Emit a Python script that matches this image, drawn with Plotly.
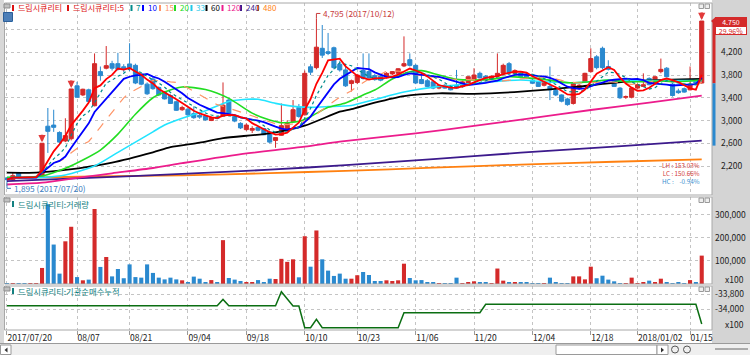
import pandas as pd
import plotly.graph_objects as go

# ------------------------------------------------------------------ data
STOCK = "드림시큐리티"
HOLIDAYS = ["2017-08-15", "2017-10-02", "2017-10-03", "2017-10-04", "2017-10-05",
            "2017-10-06", "2017-10-09", "2017-12-25", "2017-12-29", "2018-01-01"]
dates = [d.strftime("%Y-%m-%d") for d in pd.bdate_range("2017-07-20", "2018-01-17")
         if d.strftime("%Y-%m-%d") not in HOLIDAYS]

opens = [1990, 1960, 2075, 2000, 1995, 2000, 2010, 2900, 2920, 2790,
         2640, 2680, 3610, 3450, 3540, 3260, 3860, 3920, 4000, 4000,
         3945, 3995, 3970, 3820, 3640, 3730, 3580, 3500, 3440, 3330,
         3190, 3200, 3120, 3090, 3080, 3000, 3060, 3080, 3360, 3070,
         2950, 2840, 2830, 2880, 2860, 2800, 2650, 2740, 2830, 2980,
         3230, 3100, 3945, 3930, 4270, 4210, 4280, 3990, 3890, 3650,
         3670, 3880, 3860, 3790, 3780, 3770, 3820, 3830, 3960, 4070,
         3970, 3720, 3700, 3680, 3570, 3620, 3590, 3620, 3600, 3660,
         3720, 3830, 3780, 3730, 3780, 3830, 4000, 3830, 3830, 3800,
         3710, 3680, 3620, 3600, 3530, 3450, 3380, 3300, 3570, 3680,
         3860, 4120, 4270, 3950, 3710, 3570, 3410, 3410, 3570, 3600,
         3740, 3650, 3860, 3920, 3640, 3520, 3560, 3540, 3690, 3660]
highs = [2000, 2080, 2085, 2010, 2005, 2010, 2600, 3220, 3190, 2810,
         3040, 3555, 3680, 3560, 3560, 4180, 3950, 4310, 4050, 4190,
         3990, 4360, 4000, 3840, 3670, 3760, 3600, 3520, 3460, 3350,
         3260, 3220, 3250, 3120, 3100, 3070, 3080, 3670, 3380, 3090,
         2970, 2950, 2900, 2900, 2870, 2810, 2710, 3300, 3000, 3360,
         3290, 3880, 3990, 4795, 4680, 4540, 4300, 4050, 4000, 3720,
         3820, 4180, 4180, 3820, 3800, 3850, 3870, 3920, 4480, 4180,
         3990, 3800, 3730, 3690, 3640, 3640, 3610, 3890, 3700, 3780,
         3920, 3860, 3800, 3790, 4180, 4000, 4030, 3900, 3860, 3820,
         3730, 3700, 3700, 3950, 3550, 3460, 3400, 3680, 3640, 3840,
         4270, 4150, 4300, 4060, 3730, 3590, 3440, 3580, 3650, 3830,
         3760, 3780, 4090, 3940, 3660, 3560, 3580, 3950, 3700, 4750]
lows = [1895, 1950, 1990, 1985, 1985, 1990, 2000, 2430, 2800, 2600,
        2620, 2650, 3400, 3430, 3320, 3250, 3700, 3900, 3880, 3880,
        3850, 3870, 3640, 3620, 3450, 3540, 3430, 3370, 3290, 3170,
        3170, 3080, 3030, 3030, 3000, 2990, 3020, 3070, 3110, 2970,
        2850, 2820, 2780, 2810, 2740, 2600, 2520, 2730, 2800, 2960,
        3050, 3090, 3800, 3900, 4100, 4150, 3900, 3860, 3590, 3510,
        3640, 3720, 3720, 3700, 3690, 3740, 3800, 3820, 3940, 3950,
        3640, 3640, 3590, 3550, 3550, 3560, 3530, 3560, 3580, 3640,
        3700, 3740, 3730, 3720, 3760, 3800, 3820, 3800, 3760, 3730,
        3640, 3590, 3600, 3360, 3430, 3320, 3260, 3280, 3540, 3660,
        3840, 3900, 3900, 3880, 3590, 3380, 3380, 3390, 3560, 3590,
        3620, 3640, 3830, 3760, 3420, 3470, 3490, 3530, 3640, 3650]
closes = [1960, 2030, 2000, 1995, 2000, 2000, 2600, 2810, 2880, 2620,
          2735, 3555, 3410, 3550, 3335, 4000, 3790, 3965, 3920, 3900,
          3900, 3930, 3660, 3640, 3470, 3560, 3450, 3380, 3300, 3180,
          3230, 3100, 3050, 3060, 3010, 3050, 3040, 3270, 3130, 2990,
          2870, 2920, 2860, 2830, 2750, 2620, 2700, 2910, 2950, 3190,
          3070, 3830, 3850, 4290, 4150, 4180, 3930, 3890, 3610, 3700,
          3800, 3740, 3750, 3720, 3710, 3830, 3860, 3910, 4000, 3970,
          3660, 3650, 3600, 3570, 3620, 3570, 3540, 3570, 3680, 3770,
          3800, 3750, 3745, 3780, 3830, 3970, 3840, 3880, 3770, 3745,
          3655, 3600, 3680, 3540, 3450, 3340, 3280, 3650, 3620, 3830,
          4090, 3930, 3930, 3900, 3600, 3400, 3420, 3570, 3630, 3630,
          3630, 3770, 3900, 3770, 3440, 3490, 3500, 3630, 3655, 4750]
# volume, in units of x100 (as on the axis)
volumes = [1500, 4000, 3000, 800, 700, 600, 69500, 346000, 171000, 45000,
           185000, 248000, 30000, 16000, 19000, 325000, 74000, 117000, 33000, 65000,
           25000, 85000, 30000, 27500, 85000, 48000, 27500, 20000, 27500, 20000,
           16000, 8700, 32000, 23000, 5800, 17000, 5800, 190000, 26000, 19000,
           13000, 7200, 7200, 17000, 7200, 23000, 21700, 109000, 96000, 107000,
           29000, 207000, 75000, 232000, 107000, 58000, 35000, 45000, 23000, 23000,
           38000, 52000, 39000, 13000, 13000, 16000, 13000, 16000, 88000, 26000,
           16000, 17000, 7200, 5800, 2900, 2900, 2900, 27500, 4300, 7200,
           11600, 5800, 5800, 2900, 67000, 14500, 7200, 7200, 7200, 7200,
           4300, 2900, 2900, 27500, 5800, 500, 500, 33000, 33000, 20000,
           75000, 25000, 36000, 19000, 11600, 2900, 2900, 27500, 4300, 7200,
           14500, 7200, 23000, 7200, 2900, 7200, 500, 17000, 5800, 123000]
# institutional net buying, cumulative (x100)
inst_cum = [-33952, -33952, -33952, -33952, -33952, -33952, -33952, -33952, -33952, -33952,
            -33952, -33952, -33952, -33952, -33952, -33952, -33952, -33952, -33952, -33952,
            -33952, -33952, -33952, -33952, -33952, -33952, -33952, -33952, -33952, -33952,
            -33952, -33952, -33952, -33952, -33952, -33952, -33952, -33870, -33952, -33952,
            -33952, -33952, -33952, -33952, -33952, -33952, -33952, -33770, -33865, -33957,
            -33957, -34240, -34240, -34131, -34240, -34240, -34240, -34240, -34240, -34240,
            -34240, -34240, -34240, -34240, -34240, -34240, -34240, -34240, -34044, -34044,
            -34044, -34044, -34044, -34044, -34044, -34044, -34044, -34044, -34044, -34044,
            -34044, -34044, -33935, -33935, -33935, -33935, -33935, -33935, -33935, -33935,
            -33935, -33935, -33935, -33935, -33935, -33935, -33935, -33935, -33935, -33935,
            -33935, -33935, -33935, -33935, -33935, -33935, -33935, -33935, -33935, -33935,
            -33935, -33935, -33935, -33935, -33935, -33935, -33935, -33935, -33935, -34192]

# longer moving averages at sample bars
ma20_idx = [0, 6, 10, 13, 16, 19, 22, 25, 27, 30, 34, 38, 42, 45, 47, 50, 52, 55, 58, 61,
            63, 66, 69, 71, 74, 77, 80, 83, 86, 89, 92, 96, 100, 103, 106, 109, 112, 115, 119]
ma20_val = [2000, 2024, 2159, 2306, 2481, 2760, 3110, 3400, 3500, 3590, 3545, 3390, 3130, 3009,
            2962, 2985, 3068, 3232, 3310, 3450, 3537, 3730, 3859, 3877, 3801, 3724, 3713, 3724,
            3771, 3750, 3724, 3666, 3683, 3713, 3683, 3683, 3695, 3683, 3713]
ma33_idx = [0, 6, 10, 15, 19, 22, 25, 27, 30, 34, 38, 41, 43, 46, 50, 52, 55, 59, 63, 68,
            74, 77, 83, 88, 92, 98, 103, 109, 119]
ma33_val = [1995, 2000, 2042, 2200, 2440, 2620, 2800, 2921, 3040, 3170, 3335, 3373, 3373, 3302,
            3240, 3232, 3244, 3265, 3370, 3500, 3600, 3625, 3683, 3713, 3683, 3666, 3713, 3701, 3701]
ma60_idx = [0, 5, 10, 18, 25, 28, 33, 37, 45, 51, 57, 59, 63, 68, 74, 80, 88, 98, 103, 109, 119]
ma60_val = [2082, 2082, 2130, 2260, 2440, 2530, 2610, 2690, 2775, 2910, 3155, 3200, 3314, 3431,
            3479, 3470, 3507, 3595, 3654, 3700, 3730]
ma120_idx = [0, 6, 12, 18, 25, 30, 39, 51, 57, 70, 80, 89, 100, 110, 119]
ma120_val = [1875, 1906, 1990, 2072, 2165, 2250, 2393, 2540, 2628, 2775, 2904, 3030, 3185, 3314, 3437]
ma240_idx = [0, 15, 30, 45, 58, 73, 88, 104, 119]
ma240_val = [1935, 1995, 2060, 2135, 2215, 2320, 2434, 2540, 2645]
ma480_idx = [0, 15, 30, 45, 58, 73, 88, 104, 119]
ma480_val = [1990, 2015, 2036, 2075, 2115, 2170, 2225, 2275, 2318]

tick_dates = ["2017-07-20", "2017-08-07", "2017-08-21", "2017-09-04", "2017-09-18", "2017-10-10",
              "2017-10-23", "2017-11-06", "2017-11-20", "2017-12-04", "2017-12-18", "2018-01-02",
              "2018-01-15"]
tick_labels = ["2017/07/20", "08/07", "08/21", "09/04", "09/18", "10/10", "10/23", "11/06",
               "11/20", "12/04", "12/18", "2018/01/02", "01/15"]
price_ticks = [2200, 2600, 3000, 3400, 3800, 4200, 4600]
price_tick_labels = ["2,200", "2,600", "3,000", "3,400", "3,800", "4,200", ""]
vol_ticks = [100000, 200000, 300000]
vol_tick_labels = ["100,000", "200,000", "300,000"]
inst_ticks = [-34000, -33800]
inst_tick_labels = ["-34,000", "-33,800"]

# ------------------------------------------------------------------ styles
W, H = 750, 355
def px(v): return v / W
def py(v): return 1 - v / H

FONT = "Noto Sans CJK KR, Noto Sans, sans-serif"
RED, BLUE = "#d42a2a", "#2a89cf"
MA_COLOR = {5: "#ff0000", 7: "#008b8b", 10: "#0000ff", 15: "#ff9466", 20: "#22dd22",
            33: "#22e4ff", 60: "#000000", 120: "#ec1c8c", 240: "#3c1a8c", 480: "#ff8010"}
MA_WIDTH = {5: 1.8, 7: 1.2, 10: 1.8, 15: 1.2, 20: 1.6, 33: 1.6, 60: 1.8, 120: 1.8, 240: 1.8, 480: 1.8}
MA_DASH = {7: "dot", 15: "dash"}

n = len(dates)
xi = list(range(n))
tick_pos = [dates.index(d) for d in tick_dates]

fig = go.Figure()

for period, idx, val in [(480, ma480_idx, ma480_val), (240, ma240_idx, ma240_val),
                         (120, ma120_idx, ma120_val), (60, ma60_idx, ma60_val),
                         (33, ma33_idx, ma33_val), (20, ma20_idx, ma20_val)]:
    fig.add_trace(go.Scatter(x=idx, y=val, mode="lines", name=f"{STOCK}:{period}",
                             line=dict(color=MA_COLOR[period], width=MA_WIDTH[period],
                                       shape="spline", smoothing=0.7),
                             xaxis="x", yaxis="y", hoverinfo="skip"))

cs = pd.Series(closes, dtype=float)
for period in [15, 10, 7, 5]:
    fig.add_trace(go.Scatter(x=xi, y=cs.rolling(period, min_periods=1).mean(), mode="lines",
                             name=f"{STOCK}:{period}",
                             line=dict(color=MA_COLOR[period], width=MA_WIDTH[period],
                                       dash=MA_DASH.get(period, "solid")),
                             xaxis="x", yaxis="y", hoverinfo="skip"))

fig.add_trace(go.Candlestick(x=xi, open=opens, high=highs, low=lows, close=closes, name=STOCK,
                             increasing=dict(line=dict(color=RED, width=1), fillcolor=RED),
                             decreasing=dict(line=dict(color=BLUE, width=1), fillcolor=BLUE),
                             whiskerwidth=0, xaxis="x", yaxis="y", hoverinfo="skip"))

vol_colors = [RED if c >= o else BLUE for o, c in zip(opens, closes)]
fig.add_trace(go.Bar(x=xi, y=volumes, marker=dict(color=vol_colors, line=dict(width=0)),
                     name=f"{STOCK}:거래량", xaxis="x2", yaxis="y2", hoverinfo="skip"))
fig.add_trace(go.Scatter(x=xi, y=inst_cum, mode="lines", name=f"{STOCK}:기관순매수누적",
                         line=dict(color="#0b6e12", width=1.5), xaxis="x3", yaxis="y3",
                         hoverinfo="skip"))

GRID = dict(showgrid=True, gridcolor="#c4c4c4", griddash="dot", gridwidth=1, zeroline=False,
            showline=False, fixedrange=True)
xcommon = dict(range=[-0.34, 120.76], domain=[px(5), px(712)], tickvals=tick_pos, **GRID)
ycommon = dict(side="right", ticks="", **GRID)
TICKFONT = dict(family=FONT, size=8.5, color="#222")

fig.update_layout(
    width=W, height=H, margin=dict(l=0, r=0, t=0, b=0), autosize=False,
    paper_bgcolor="white", plot_bgcolor="white", showlegend=False, hovermode=False,
    boxgap=0.3, boxgroupgap=0, bargap=0.3,
    font=dict(family=FONT, size=8, color="#222"),
    xaxis=dict(anchor="y", showticklabels=False, ticks="", rangeslider=dict(visible=False), **xcommon),
    xaxis2=dict(anchor="y2", showticklabels=False, ticks="", **xcommon),
    xaxis3=dict(anchor="y3", showticklabels=True, ticktext=tick_labels, ticks="outside",
                ticklen=4, tickcolor="#9a9a9a", ticklabelposition="outside right",
                tickfont=TICKFONT, **xcommon),
    yaxis=dict(anchor="x", domain=[py(195), py(3)], range=[1690, 5067], tickvals=price_ticks,
               ticktext=price_tick_labels, ticklabelstandoff=8, tickfont=TICKFONT, **ycommon),
    yaxis2=dict(anchor="x2", domain=[py(284), py(197)], range=[0, 377000], tickvals=vol_ticks,
                ticktext=vol_tick_labels, ticklabelstandoff=2, tickfont=TICKFONT, **ycommon),
    yaxis3=dict(anchor="x3", domain=[py(330), py(286)], range=[-34270, -33695], tickvals=inst_ticks,
                ticktext=inst_tick_labels, ticklabelstandoff=2, tickfont=TICKFONT, **ycommon),
)

shapes, anns = [], []
# frame / chrome
shapes.append(dict(type="rect", xref="paper", yref="paper", x0=px(712), x1=1, y0=py(343), y1=1,
                   fillcolor="#d4d4d4", line=dict(width=0), layer="below"))
shapes.append(dict(type="rect", xref="paper", yref="paper", x0=0, x1=px(4), y0=py(343), y1=1,
                   fillcolor="#d8d8d8", line=dict(width=0), layer="below"))
for top, bot in [(3, 195), (197, 284), (286, 330)]:
    shapes.append(dict(type="rect", xref="paper", yref="paper", x0=px(4.5), x1=px(712),
                       y0=py(bot), y1=py(top), line=dict(color="#a8a8a8", width=1)))
    shapes.append(dict(type="rect", xref="paper", yref="paper", x0=px(4), x1=px(10),
                       y0=py(top + 5), y1=py(top + 1), fillcolor="#c0c0c0",
                       line=dict(color="#8c8c8c", width=1)))
    for xl in (699, 705):
        shapes.append(dict(type="rect", xref="paper", yref="paper", x0=px(xl), x1=px(xl + 4.5),
                           y0=py(top + 5.5), y1=py(top + 1), fillcolor="#eeeeee",
                           line=dict(color="#9a9a9a", width=1)))
shapes.append(dict(type="line", xref="paper", yref="paper", x0=0, x1=1, y0=py(343.5), y1=py(343.5),
                   line=dict(color="#9a9a9a", width=1)))
shapes.append(dict(type="rect", xref="paper", yref="paper", x0=0, x1=1, y0=0, y1=py(344),
                   fillcolor="#efefef", line=dict(width=0)))
for x0, x1 in [(0.5, 11), (556, 657), (657, 668)]:
    shapes.append(dict(type="rect", xref="paper", yref="paper", x0=px(x0), x1=px(x1), y0=py(354.5),
                       y1=py(345), fillcolor="white", line=dict(color="#9a9a9a", width=1)))
for x0, x1 in [(7.5, 4.5), (661, 664)]:
    shapes.append(dict(type="path", xref="paper", yref="paper",
                       path=f"M{px(x0)},{py(347.5)} L{px(x1)},{py(350)} L{px(x0)},{py(352.5)} Z",
                       fillcolor="#333", line=dict(width=0)))
for cx in (675, 687):
    shapes.append(dict(type="circle", xref="paper", yref="paper", x0=px(cx - 3.5), x1=px(cx + 3.5),
                       y0=py(353), y1=py(346), line=dict(color="#555", width=1)))
shapes.append(dict(type="line", xref="paper", yref="paper", x0=px(715), x1=px(748), y0=py(349),
                   y1=py(349), line=dict(color="#666", width=1)))

# "호" icon
shapes.append(dict(type="rect", xref="paper", yref="paper", x0=px(3.5), x1=px(12.5), y0=py(21.5),
                   y1=py(12.5), fillcolor="#4d7fb8", line=dict(color="#2d5f98", width=1)))
anns.append(dict(text="호", x=px(8), y=py(17), xref="paper", yref="paper", showarrow=False,
                 font=dict(family=FONT, size=7, color="white")))

# legends
leg_items = [(STOCK, "#dd1111"), (f"{STOCK}:5", "#dd1111")] + \
            [(str(p), MA_COLOR[p] if p != 33 else "#1ec8e8") for p in (7, 10, 15, 20, 33, 60, 120, 240, 480)]
leg_x = [13, 68, 131.5, 143, 160, 175, 191.5, 206.5, 222.5, 241, 258]
for (txt, col), mx in zip(leg_items, leg_x):
    shapes.append(dict(type="rect", xref="paper", yref="paper", x0=px(mx - 1), x1=px(mx + 1),
                       y0=py(11), y1=py(5), fillcolor=col, line=dict(width=0)))
    anns.append(dict(text=txt, x=px(mx + 2.5), y=py(8), xref="paper", yref="paper", showarrow=False,
                     xanchor="left", yanchor="middle", font=dict(family=FONT, size=8, color=col)))
for txt, yc in [(f"{STOCK}:거래량", 204), (f"{STOCK}:기관순매수누적", 291)]:
    shapes.append(dict(type="rect", xref="paper", yref="paper", x0=px(12), x1=px(14),
                       y0=py(yc + 3), y1=py(yc - 3), fillcolor="#138080", line=dict(width=0)))
    anns.append(dict(text=txt, x=px(16), y=py(yc), xref="paper", yref="paper", showarrow=False,
                     xanchor="left", yanchor="middle", font=dict(family=FONT, size=8.3, color="#138080")))
for yc in (279, 324):
    anns.append(dict(text="x100", x=px(746), y=py(yc), xref="paper", yref="paper", showarrow=False,
                     xanchor="right", yanchor="middle", font=TICKFONT))

# high / low markers
i_hi = highs.index(max(highs))
i_lo = lows.index(min(lows))
for i, val, sign, col in [(i_hi, highs[i_hi], 1, "#c83c3c"), (i_lo, lows[i_lo], -1, "#3c7cc0")]:
    shapes.append(dict(type="path", xref="x", yref="y", xsizemode="pixel", ysizemode="pixel",
                       xanchor=i, yanchor=val, path=f"M0,0 V{5 * sign} H4",
                       line=dict(color=col, width=1)))
    anns.append(dict(text=f"{val:,} ({dates[i].replace('-', '/')})", x=i, y=val, xref="x", yref="y",
                     showarrow=False, xanchor="left", yanchor="middle", xshift=5, yshift=5 * sign,
                     font=dict(family=FONT, size=8.3, color=col)))

# upper-limit arrows
for i in range(1, n):
    if closes[i] / closes[i - 1] - 1 >= 0.295:
        anns.append(dict(text="", x=i, y=highs[i], xref="x", yref="y", showarrow=True, ax=0, ay=-10,
                         arrowhead=2, arrowsize=0.6, arrowwidth=2.4, arrowcolor="#e23a3a", standoff=1))

# current price box, change, limit range bar
last, prev = closes[-1], closes[-2]
chg = (last / prev - 1) * 100
shapes.append(dict(type="rect", xref="paper", yref="y", x0=px(712.5), x1=px(715.5), y0=prev,
                   y1=prev * 1.3, fillcolor="#d42a2a", line=dict(width=0)))
shapes.append(dict(type="rect", xref="paper", yref="y", x0=px(712.5), x1=px(715.5), y0=prev * 0.7,
                   y1=prev, fillcolor="#2a89cf", line=dict(width=0)))
shapes.append(dict(type="path", xref="paper", yref="y", xsizemode="pixel", ysizemode="pixel",
                   xanchor=px(714), yanchor=last, path="M-3,0 L1,3.5 L1,-3.5 Z",
                   fillcolor="#d42a2a", line=dict(width=0)))
anns.append(dict(text=f"{last:,}", x=px(715), y=last, xref="paper", yref="y", showarrow=False,
                 xanchor="left", yanchor="middle", width=30, height=7, borderpad=0,
                 bgcolor="#d42a2a", bordercolor="#d42a2a", borderwidth=1,
                 font=dict(family=FONT, size=7, color="white")))
anns.append(dict(text=f"{chg:.2f}%", x=px(715), y=last, xref="paper", yref="y", showarrow=False,
                 xanchor="left", yanchor="middle", yshift=-9.5, width=30, height=7, borderpad=0,
                 bgcolor="white", bordercolor="#d42a2a", borderwidth=1,
                 font=dict(family=FONT, size=7, color="#d42a2a")))

hi, lo = max(highs), min(lows)
NB = "\u00a0"
stat_lines = [(f"LH{NB}:{NB}{(hi - lo) / lo * 100:.2f}%", "#d23c3c"),
              (f"LC{NB}:{NB}{(last - lo) / lo * 100:.2f}%", "#d23c3c"),
              (f"HC{NB}:{NB * 4}{(last - hi) / hi * 100:.2f}%", "#3a90d0")]
stat_text = "<br>".join(f"<span style='color:{c}'>{t}</span>" for t, c in stat_lines)
anns.append(dict(text=stat_text, x=px(702), y=py(173.5), xref="paper", yref="paper",
                 showarrow=False, xanchor="right", yanchor="middle", align="right",
                 font=dict(family=FONT, size=6.3, color="#d23c3c")))

fig.update_layout(shapes=shapes, annotations=anns)
fig.write_html("out.html", config={"displayModeBar": False},
               post_script="document.body.style.margin='0';document.body.style.overflow='hidden';")
